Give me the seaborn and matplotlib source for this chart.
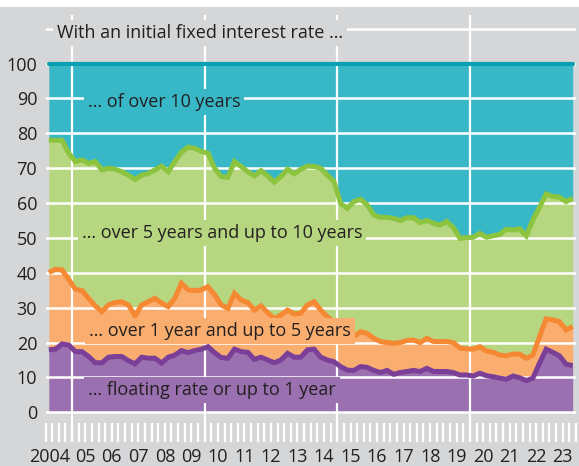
import numpy as np
import matplotlib
matplotlib.use("Agg")
import matplotlib.pyplot as plt
import matplotlib.transforms as mtransforms
from matplotlib.ticker import MultipleLocator
from matplotlib.patches import Rectangle
import seaborn as sns

# quarterly shares of new housing loans, plotted cumulatively (% of total)
quarters = np.arange(2004, 2024, 0.25) + 0.125

floating_up_to_1y = [
    17.9, 18.1, 19.6, 19.3, 17.4, 17.4, 16.0, 14.2, 14.2, 15.8, 16.0, 16.0, 14.8, 13.9, 15.8, 15.5, 15.5, 14.1, 15.8, 16.4,
    17.7, 17.1, 17.7, 18.1, 18.8, 17.1, 15.7, 15.5, 18.1, 17.4, 17.2, 15.2, 15.8, 15.0, 14.2, 15.0, 16.9, 15.8, 15.8, 17.9,
    18.1, 15.8, 15.0, 14.5, 13.1, 12.1, 12.0, 13.1, 12.9, 12.0, 11.4, 12.0, 10.9, 11.4, 11.7, 12.0, 11.7, 12.6, 11.7, 11.7,
    11.7, 11.4, 10.7, 10.7, 10.4, 11.2, 10.5, 10.2, 9.8, 9.5, 10.4, 9.9, 9.1, 9.8, 14.1, 18.1, 17.2, 16.2, 13.8, 13.4,
]
cum_up_to_5y = [
    40.1, 41.0, 40.8, 38.1, 35.3, 34.9, 32.7, 30.5, 28.9, 30.8, 31.5, 31.7, 30.8, 27.6, 30.8, 31.7, 32.7, 31.3, 30.3, 32.7,
    37.0, 35.1, 34.9, 35.1, 36.0, 33.7, 30.8, 29.8, 34.1, 32.2, 31.5, 29.3, 30.5, 28.6, 26.8, 27.9, 29.3, 28.2, 28.4, 30.8,
    31.7, 29.3, 27.4, 26.0, 23.8, 21.2, 21.7, 23.1, 22.6, 21.2, 20.3, 20.0, 19.8, 20.0, 20.6, 20.7, 20.0, 21.2, 20.3, 20.3,
    20.3, 20.0, 18.4, 18.2, 18.1, 18.8, 17.6, 17.2, 16.4, 16.2, 16.7, 16.7, 15.5, 16.4, 21.7, 26.8, 26.5, 26.0, 23.6, 24.6,
]
cum_up_to_10y = [
    78.1, 78.0, 78.0, 74.3, 71.9, 72.4, 71.4, 71.9, 69.5, 70.0, 69.7, 69.0, 68.0, 66.8, 68.0, 68.5, 69.5, 70.6, 69.0, 71.9,
    74.6, 76.0, 75.7, 74.8, 74.3, 70.0, 67.6, 67.4, 71.9, 70.5, 69.0, 67.8, 69.3, 67.8, 66.0, 67.6, 69.7, 68.4, 69.7, 70.6,
    70.5, 70.0, 68.0, 66.2, 59.9, 58.5, 60.4, 61.1, 59.5, 56.6, 55.9, 55.9, 55.6, 55.0, 55.8, 55.8, 54.4, 55.0, 54.2, 53.7,
    54.7, 53.0, 49.9, 50.1, 50.2, 51.3, 50.2, 50.6, 51.0, 52.5, 52.3, 52.6, 50.6, 55.2, 58.8, 62.6, 61.9, 61.7, 60.4, 61.4,
]
total = [100.0] * len(quarters)

year_labels = ["2004"] + [f"{y % 100:02d}" for y in range(2005, 2024)]
band_labels = [
    "\u2026 floating rate or up to 1 year",
    "\u2026 over 1 year and up to 5 years",
    "\u2026 over 5 years and up to 10 years",
    "\u2026 of over 10 years",
]
title_text = "With an initial fixed interest rate \u2026"
grid_levels = list(range(0, 111, 10))

bg = "#d5d6d8"
fill_colors = ["#9a70b0", "#f9ae70", "#b6d680", "#38b8c7"]
line_colors = ["#7b3f98", "#f58833", "#8cc43f", "#0aa0b2"]
ink = "#231f20"
fs = 13

sns.set_theme(style="white")
plt.rcParams["font.family"] = ["Open Sans", "DejaVu Sans"]
plt.rcParams["font.size"] = fs

fig = plt.figure(figsize=(5.79, 4.66), dpi=100, facecolor=bg)
ax = fig.add_axes([45.5 / 579, 1 - 442 / 466, 530.5 / 579, 427 / 466])
ax.set_facecolor(bg)
fig.patches.append(Rectangle((0, 1 - 7 / 466), 1, 7 / 466, transform=fig.transFigure,
                             facecolor="white", edgecolor="none", zorder=0))

levels = [np.zeros(len(quarters)), np.array(floating_up_to_1y), np.array(cum_up_to_5y),
          np.array(cum_up_to_10y), np.array(total)]
for k in range(4):
    ax.fill_between(quarters, levels[k], levels[k + 1], color=fill_colors[k], lw=0, zorder=1)

for k, series in enumerate([floating_up_to_1y, cum_up_to_5y, cum_up_to_10y]):
    sns.lineplot(x=quarters, y=series, color=line_colors[k], lw=3.6, ax=ax, zorder=3,
                 solid_joinstyle="miter", solid_capstyle="butt")
sns.lineplot(x=quarters, y=total, color=line_colors[3], lw=3.0, ax=ax, zorder=3)

ax.set_xlim(2004, 2024)
ax.set_ylim(-8.52, 113.94)
ax.set_yticks(range(0, 101, 10))
ax.set_yticklabels([str(v) for v in range(0, 101, 10)], color=ink)
ax.grid(False)
for g in grid_levels:
    ax.axhline(g, color="white", lw=1.8, zorder=2.5)
for yr in [2005, 2010, 2015, 2020]:
    ax.axvline(yr, color="white", lw=1.6, zorder=2.5)

ax.set_xticks(np.arange(2004, 2024) + 0.5)
ax.set_xticklabels(year_labels, color=ink)
ax.xaxis.set_minor_locator(MultipleLocator(0.25))
ax.xaxis.remove_overlapping_locs = False
ax.tick_params(axis="x", which="major", bottom=True, length=0, pad=4, labelsize=fs)
ax.tick_params(axis="x", which="minor", bottom=True, direction="in", length=14, width=1.6,
               color="white")
ax.tick_params(axis="y", length=0, pad=6, labelsize=fs)
shift = mtransforms.ScaledTranslation(-9 / 100, 0, fig.dpi_scale_trans)
first = ax.get_xticklabels()[0]
first.set_transform(first.get_transform() + shift)
for s in ax.spines.values():
    s.set_visible(False)
ax.set_xlabel("")
ax.set_ylabel("")

box = dict(boxstyle="square,pad=0.22", ec="none")
ax.text(2004.43, 107.4, title_text, color=ink, va="baseline", zorder=4, bbox={**box, "fc": bg})
label_pos = [(2005.62, 5.0), (2005.65, 21.9), (2005.365, 49.9), (2005.60, 87.5)]
for k, (lx, ly) in enumerate(label_pos):
    ax.text(lx, ly, band_labels[k], color=ink, va="baseline", zorder=4,
            bbox={**box, "fc": fill_colors[k]})

fig.savefig("out.png", dpi=100, facecolor=bg)
